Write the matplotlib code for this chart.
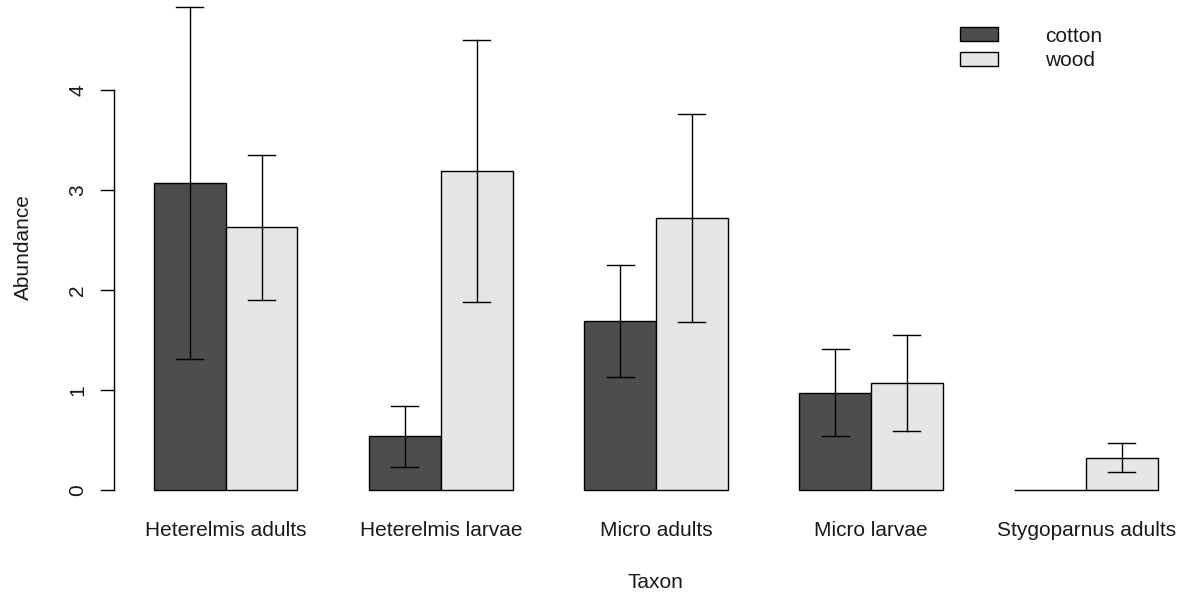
import matplotlib
matplotlib.use("Agg")
import matplotlib.pyplot as plt
from matplotlib.patches import Rectangle
import numpy as np

plt.rcParams['font.family'] = ['Liberation Sans', 'DejaVu Sans']

taxa = ["Heterelmis adults", "Heterelmis larvae", "Micro adults", "Micro larvae", "Stygoparnus adults"]
substrates = ["cotton", "wood"]
cotton_mean = [3.07, 0.54, 1.69, 0.97, 0.00]
cotton_lo = [1.31, 0.23, 1.13, 0.54, 0.00]
cotton_hi = [4.83, 0.84, 2.25, 1.41, 0.00]
wood_mean = [2.63, 3.19, 2.72, 1.07, 0.32]
wood_lo = [1.90, 1.88, 1.68, 0.59, 0.18]
wood_hi = [3.35, 4.50, 3.76, 1.55, 0.47]
yticks = [0, 1, 2, 3, 4]

colors = ["#4d4d4d", "#e6e6e6"]
FS = 15
TXT = "#1a1a1a"

W, H = 1181, 596
fig = plt.figure(figsize=(W / 100, H / 100), dpi=100)

# axes spans the full figure; map data units to pixel layout
ax = fig.add_axes([0, 0, 1, 1])
px_per_x = 71.7
x0_px = 154.0          # left edge of first bar (unit 1)
px_per_y = 100.0
y0_px = 490.0          # pixel row of value 0
ax.set_xlim(1 - x0_px / px_per_x, 1 + (W - x0_px) / px_per_x)
ax.set_ylim((y0_px - H) / px_per_y, y0_px / px_per_y)
ax.axis("off")


def xu(px):
    return 1 + (px - x0_px) / px_per_x


def yu(py):
    return (y0_px - py) / px_per_y


means = [cotton_mean, wood_mean]
los = [cotton_lo, wood_lo]
his = [cotton_hi, wood_hi]

cap = 27 / px_per_x / 2
for g in range(len(taxa)):
    for s in range(2):
        left = 1 + 3 * g + s
        h = means[s][g]
        ax.add_patch(Rectangle((left, 0), 1, h, facecolor=colors[s],
                               edgecolor="black", linewidth=1.0, clip_on=False))
        if his[s][g] > los[s][g]:
            xc = left + 0.5
            ax.plot([xc, xc], [los[s][g], his[s][g]], color="black", lw=1.0, clip_on=False)
            ax.plot([xc - cap, xc + cap], [his[s][g], his[s][g]], color="black", lw=1.0, clip_on=False)
            ax.plot([xc - cap, xc + cap], [los[s][g], los[s][g]], color="black", lw=1.0, clip_on=False)
    ax.text(1 + 3 * g + 1, yu(530), taxa[g], ha="center", va="center",
            fontsize=FS, color=TXT)

# y axis drawn R-style
ax_x = xu(114)
tick_len = 13 / px_per_x
ax.plot([ax_x, ax_x], [yticks[0], yticks[-1]], color="black", lw=1.0)
for t in yticks:
    ax.plot([ax_x - tick_len, ax_x], [t, t], color="black", lw=1.0)
    ax.text(xu(78), t, str(t), rotation=90, ha="center", va="center",
            fontsize=FS, color=TXT)

ax.text(xu(23), yu(247), "Abundance", rotation=90,
        ha="center", va="center", fontsize=FS, color=TXT)
ax.text(xu(655), yu(583), "Taxon",
        ha="center", va="center", fontsize=FS, color=TXT)

# legend
for i, lab in enumerate(substrates):
    yc = 34 + 25 * i
    ax.add_patch(Rectangle((xu(960), yu(yc + 7)), 38 / px_per_x, 14 / px_per_y,
                           facecolor=colors[i], edgecolor="black", lw=1.0))
    ax.text(xu(1045), yu(yc + 2), lab, ha="left", va="center",
            fontsize=FS, color=TXT)

fig.savefig("out.png", dpi=100, facecolor="white")
